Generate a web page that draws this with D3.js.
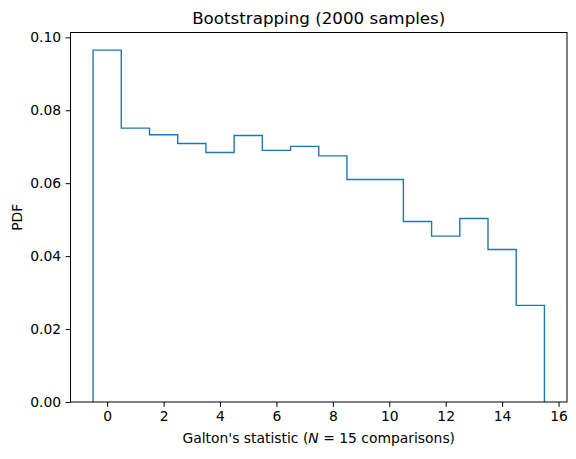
<!DOCTYPE html>
<html>
<head>
<meta charset="utf-8">
<script src="https://cdn.jsdelivr.net/npm/d3@7"></script>
<style>
  body { margin: 0; background: #fff; }
  svg { font-family: "DejaVu Sans", sans-serif; }
</style>
</head>
<body>
<svg id="chart" width="576" height="459"></svg>
<script>
// Galton's statistic values (bin centres) and their bootstrap PDF
var statValues = [0, 1, 2, 3, 4, 5, 6, 7, 8, 9, 10, 11, 12, 13, 14, 15];
var pdfValues = [0.0965, 0.0751, 0.0733, 0.0709, 0.0684, 0.0731, 0.0690, 0.0701,
                 0.0675, 0.0610, 0.0610, 0.0495, 0.0455, 0.0503, 0.0418, 0.0265];
var xTicks = [0, 2, 4, 6, 8, 10, 12, 14, 16];
var yTicks = [0.00, 0.02, 0.04, 0.06, 0.08, 0.10];

var svg = d3.select('#chart');
// plot area (note: "top" is a reserved window global, so use other names)
var axLeft = 70.5, axRight = 567, axTop = 32.5, axBottom = 402;

// bin edges are centres +/- 0.5, matplotlib-style 5% margins
var lo = d3.min(statValues) - 0.5, hi = d3.max(statValues) + 0.5;
var pad = (hi - lo) * 0.05;
var x = d3.scaleLinear().domain([lo - pad, hi + pad]).range([axLeft, axRight]);
var y = d3.scaleLinear().domain([0, d3.max(pdfValues) * 1.05]).range([axBottom, axTop]);

// Axes
var xAxis = d3.axisBottom(x).tickValues(xTicks).tickSize(4.9).tickPadding(4.5)
	.tickFormat(d3.format('d'));
var yAxis = d3.axisLeft(y).tickValues(yTicks).tickSize(4.9).tickPadding(4.5)
	.tickFormat(d3.format('.2f'));

var gx = svg.append('g').attr('transform', 'translate(0,' + axBottom + ')').call(xAxis);
var gy = svg.append('g').attr('transform', 'translate(' + axLeft + ',0)').call(yAxis);
[gx, gy].forEach(function(g) {
	g.select('.domain').remove();
	g.selectAll('.tick line').attr('stroke', '#000').attr('stroke-width', 1);
	g.selectAll('.tick text').attr('fill', '#000').style('font-size', '13.9px')
		.style('font-family', '"DejaVu Sans", sans-serif');
});

// Step histogram
var pts = [[lo, 0]];
statValues.forEach(function(s, i) { pts.push([s - 0.5, pdfValues[i]]); });
pts.push([hi, 0]);

var line = d3.line()
	.x(function(d) { return x(d[0]); })
	.y(function(d) { return y(d[1]); })
	.curve(d3.curveStepAfter);

svg.append('path')
	.datum(pts)
	.attr('d', line)
	.attr('fill', 'none')
	.attr('stroke', '#1f77b4')
	.attr('stroke-width', 1.4);

// Frame
svg.append('rect')
	.attr('x', axLeft).attr('y', axTop)
	.attr('width', axRight - axLeft).attr('height', axBottom - axTop)
	.attr('fill', 'none').attr('stroke', '#000').attr('stroke-width', 1);

// Title and labels
svg.append('text')
	.attr('x', (axLeft + axRight) / 2).attr('y', 23.5)
	.attr('text-anchor', 'middle').style('font-size', '16.7px')
	.text('Bootstrapping (2000 samples)');

var xl = svg.append('text')
	.attr('x', (axLeft + axRight) / 2).attr('y', 443)
	.attr('text-anchor', 'middle').style('font-size', '13.9px');
xl.append('tspan').text("Galton's statistic (");
xl.append('tspan').style('font-style', 'italic').text('N');
xl.append('tspan').text(' = 15 comparisons)');

svg.append('text')
	.attr('transform', 'translate(22,' + (axTop + axBottom) / 2 + ') rotate(-90)')
	.attr('text-anchor', 'middle').style('font-size', '13.9px')
	.text('PDF');
</script>
</body>
</html>
